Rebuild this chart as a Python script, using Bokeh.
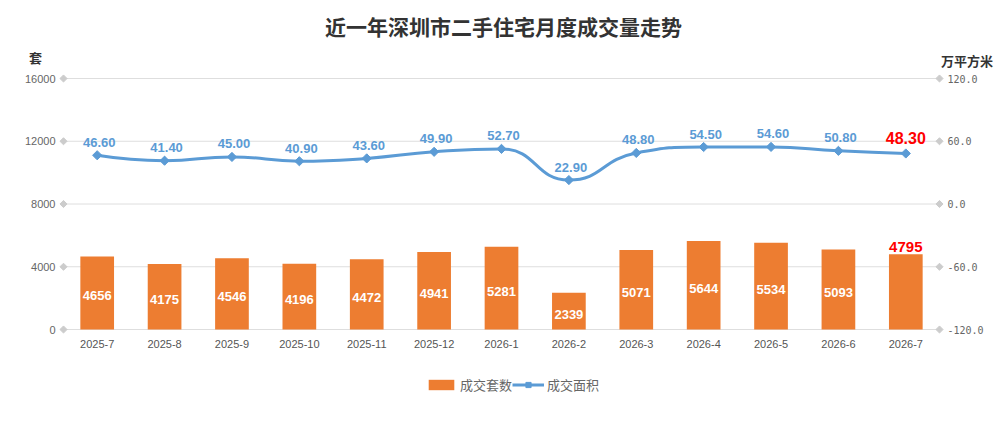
import math
from bokeh.plotting import figure
from bokeh.models import (Range1d, LinearAxis, FixedTicker, Legend, LegendItem, Label,
                          ColumnDataSource, NumeralTickFormatter)
from bokeh.core.properties import value
from bokeh.embed import file_html
from bokeh.resources import INLINE

# ---------------- data ----------------
months = ["2025-7", "2025-8", "2025-9", "2025-10", "2025-11", "2025-12", "2026-1",
          "2026-2", "2026-3", "2026-4", "2026-5", "2026-6", "2026-7"]
units = [4656, 4175, 4546, 4196, 4472, 4941, 5281, 2339, 5071, 5644, 5534, 5093, 4795]
area = [46.6, 41.4, 45.0, 40.9, 43.6, 49.9, 52.7, 22.9, 48.8, 54.5, 54.6, 50.8, 48.3]
left_ticks = [0, 4000, 8000, 12000, 16000]
right_ticks = [-120, -60, 0, 60, 120]
title_text = "近一年深圳市二手住宅月度成交量走势"
left_name = "套"
right_name = "万平方米"
bar_name = "成交套数"
line_name = "成交面积"

BAR = "#ED7D31"
BLUE = "#5B9BD5"
CJK = "Noto Sans CJK SC"

n = len(months)
xs = [i + 0.5 for i in range(n)]

# ---------------- layout (pixels) ----------------
W, H = 1000, 415
ML, MR, MT, MB = 20, 5, 0, 15          # frame covers nearly the whole canvas
FL, FR, FT, FB = ML, W - MR, MT, H - MB
PX0, PX1 = 63, 939                      # pixel span of the category band
PY0, PY1 = 329, 78                      # pixel span of the value axes

kx = (PX1 - PX0) / n
x_lo = -(PX0 - FL) / kx
x_hi = n + (FR - PX1) / kx
ky = (PY0 - PY1) / (left_ticks[-1] - left_ticks[0])
y_lo = left_ticks[0] - (FB - PY0) / ky
y_hi = left_ticks[-1] + (PY1 - FT) / ky
kr = (PY0 - PY1) / (right_ticks[-1] - right_ticks[0])
r_lo = right_ticks[0] - (FB - PY0) / kr
r_hi = right_ticks[-1] + (PY1 - FT) / kr

p = figure(width=W, height=H, output_backend="svg", toolbar_location=None, title=None,
           x_range=Range1d(x_lo, x_hi), y_range=Range1d(y_lo, y_hi),
           min_border_left=ML, min_border_right=MR, min_border_top=MT, min_border_bottom=MB)
p.outline_line_color = None
p.extra_y_ranges = {"area": Range1d(r_lo, r_hi)}

p.xaxis.ticker = FixedTicker(ticks=xs)
p.xaxis.major_label_overrides = {x: m for x, m in zip(xs, months)}
p.yaxis.ticker = FixedTicker(ticks=left_ticks)

rax = LinearAxis(y_range_name="area", ticker=FixedTicker(ticks=right_ticks),
                 formatter=NumeralTickFormatter(format="0.0"))
p.add_layout(rax, "right")

for ax in (p.xaxis[0], p.yaxis[0], rax):
    ax.axis_line_color = None
    ax.major_tick_line_color = None
    ax.minor_tick_line_color = None
    ax.major_tick_out = 0
    ax.major_tick_in = 0
    ax.minor_tick_out = 0
    ax.major_label_text_font = "Liberation Sans"
    ax.major_label_text_font_size = "11px"
    ax.major_label_text_color = "#666666"
p.xaxis.major_label_text_color = "#555555"
p.xaxis.major_label_standoff = (PY0 + 10) - FB
p.yaxis.major_label_standoff = FL - (PX0 - 8)
rax.major_label_standoff = (PX1 + 8) - FR
rax.major_label_text_font = "DejaVu Sans Mono"
rax.major_label_text_font_size = "10px"

p.xgrid.visible = False
p.ygrid.visible = False

# gridlines and axis-end diamonds
p.segment(x0=[0] * len(left_ticks), x1=[n] * len(left_ticks), y0=left_ticks, y1=left_ticks,
          line_color="#dedede", line_width=1)
p.scatter(x=[0] * len(left_ticks), y=left_ticks, marker="square", angle=math.pi / 4,
          size=5, color="#cccccc")
p.scatter(x=[n] * len(right_ticks), y=right_ticks, marker="square", angle=math.pi / 4,
          size=5, color="#cccccc", y_range_name="area")

# bars
bar_src = ColumnDataSource(dict(x=xs, top=units))
bars = p.vbar(x="x", top="top", width=0.5, source=bar_src, fill_color=BAR, line_color=None)

inside = ColumnDataSource(dict(x=xs[:-1], y=[u / 2 for u in units[:-1]],
                               t=[str(u) for u in units[:-1]]))
p.text(x="x", y="y", text="t", source=inside, text_align="center", text_baseline="middle",
       y_offset=3, text_color="white", text_font=value("Liberation Sans"),
       text_font_style="bold", text_font_size="13px")
p.text(x=[xs[-1]], y=[units[-1]], text=[str(units[-1])], text_align="center",
       text_baseline="bottom", y_offset=-2, text_color="red",
       text_font=value("Liberation Sans"), text_font_style="bold", text_font_size="15px")

# smooth line: bezier segments through the data points (control points in pixel space)
P = [(x * kx, a * kr) for x, a in zip(xs, area)]
smooth = 0.5
prev_cp = [None] * n
next_cp = [None] * n
for i, (x, y) in enumerate(P):
    if i == 0 or i == n - 1:
        prev_cp[i] = (x, y)
        next_cp[i] = (x, y)
        continue
    px, py = P[i - 1]
    nx, ny = P[i + 1]
    vx, vy = nx - px, ny - py
    l0 = math.hypot(x - px, y - py)
    l1 = math.hypot(nx - x, ny - y)
    r = l1 / (l0 + l1)
    cx = x + vx * smooth * r
    cy = y + vy * smooth * r
    cx = max(min(cx, max(nx, x)), min(nx, x))
    cy = max(min(cy, max(ny, y)), min(ny, y))
    vx, vy = cx - x, cy - y
    c0x = x - vx * l0 / l1
    c0y = y - vy * l0 / l1
    c0x = max(min(c0x, max(px, x)), min(px, x))
    c0y = max(min(c0y, max(py, y)), min(py, y))
    vx, vy = x - c0x, y - c0y
    cx = x + vx * l1 / l0
    cy = y + vy * l1 / l0
    prev_cp[i] = (c0x, c0y)
    next_cp[i] = (cx, cy)

bez = ColumnDataSource(dict(
    x0=xs[:-1], y0=area[:-1], x1=xs[1:], y1=area[1:],
    cx0=[next_cp[i][0] / kx for i in range(n - 1)],
    cy0=[next_cp[i][1] / kr for i in range(n - 1)],
    cx1=[prev_cp[i + 1][0] / kx for i in range(n - 1)],
    cy1=[prev_cp[i + 1][1] / kr for i in range(n - 1)],
))
p.bezier(x0="x0", y0="y0", x1="x1", y1="y1", cx0="cx0", cy0="cy0", cx1="cx1", cy1="cy1",
         source=bez, line_color=BLUE, line_width=3, y_range_name="area")
marks = p.scatter(x=xs, y=area, marker="square", angle=math.pi / 4, size=6.5, color=BLUE,
                  y_range_name="area")

lab = ColumnDataSource(dict(x=xs[:-1], y=area[:-1], t=["%.2f" % a for a in area[:-1]]))
p.text(x="x", y="y", text="t", source=lab, y_range_name="area", text_align="center",
       text_baseline="middle", y_offset=-13, x_offset=2, text_color=BLUE,
       text_font=value("Liberation Sans"), text_font_style="bold", text_font_size="13px")
p.text(x=[xs[-1]], y=[area[-1]], text=["%.2f" % area[-1]], y_range_name="area",
       text_align="center", text_baseline="middle", y_offset=-15, text_color="red",
       text_font=value("Liberation Sans"), text_font_style="bold", text_font_size="16px")

# legend: a single-point line (invisible on the plot) carries the line style
proxy = p.line(x=xs[:1], y=area[:1], line_color=BLUE, line_width=3, y_range_name="area")
legend = Legend(items=[LegendItem(label=bar_name, renderers=[bars]),
                       LegendItem(label=line_name, renderers=[proxy, marks])],
                orientation="horizontal", location=(425 - FL, FB - 394), padding=0, margin=0,
                spacing=0, label_standoff=3, glyph_width=32, glyph_height=13,
                label_height=13, border_line_color=None, background_fill_alpha=0,
                label_text_font=CJK, label_text_font_size="13px",
                label_text_color="#666666")
p.add_layout(legend)

# title and axis names (screen units relative to the frame's bottom-left)
def add_label(px, py, text, size):
    p.add_layout(Label(x=px - FL, y=FB - py, x_units="screen", y_units="screen", text=text,
                       text_align="center", text_baseline="middle", text_font=CJK,
                       text_font_style="bold", text_font_size=size, text_color="#333333"))

add_label(503, 25.5, title_text, "21px")
add_label(35, 57, left_name, "13px")
add_label(966.5, 59.5, right_name, "13px")

open("out.html", "w").write(file_html(p, INLINE))
